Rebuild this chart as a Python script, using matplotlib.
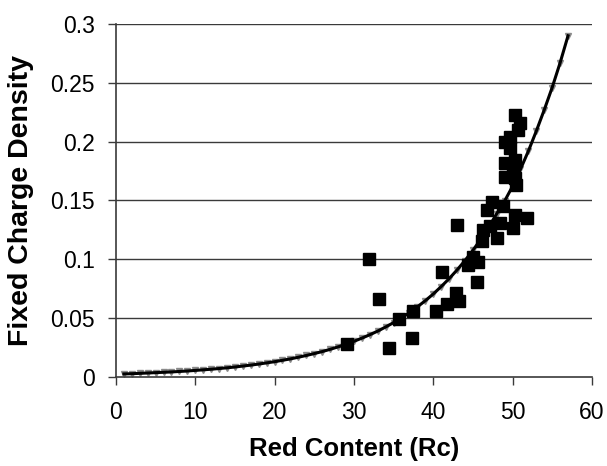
import matplotlib
matplotlib.use("Agg")
import matplotlib.pyplot as plt

# Measured data (Red Content vs Fixed Charge Density)
rc = [29.1, 31.9, 33.2, 34.4, 35.7, 37.3, 37.5, 40.4, 41.1, 41.8,
      42.9, 43.2, 43.0, 44.4, 45.0, 45.6, 45.5, 46.1, 46.3, 47.1,
      48.0, 48.4, 46.8, 47.4, 48.8, 50.3, 51.8, 50.0,
      50.3, 50.9, 50.7, 49.7, 49.0, 49.7, 49.0, 50.3, 50.0, 49.0,
      50.3, 50.5]
fcd = [0.028, 0.100, 0.066, 0.025, 0.049, 0.033, 0.056, 0.056, 0.089, 0.062,
       0.071, 0.065, 0.129, 0.095, 0.102, 0.098, 0.081, 0.116, 0.125, 0.128,
       0.118, 0.131, 0.142, 0.149, 0.145, 0.138, 0.135, 0.127,
       0.223, 0.216, 0.210, 0.204, 0.200, 0.195, 0.182, 0.184, 0.176, 0.170,
       0.169, 0.163]

# Trend curve values at x = 1..57
curve_x = list(range(1, 58))
curve_y = [0.0026, 0.0028, 0.0031, 0.0034, 0.0037, 0.0040, 0.0043, 0.0047, 0.0051, 0.0056,
           0.0061, 0.0066, 0.0072, 0.0078, 0.0085, 0.0093, 0.0101, 0.0110, 0.0120, 0.0130,
           0.0142, 0.0154, 0.0168, 0.0183, 0.0199, 0.0216, 0.0235, 0.0256, 0.0278, 0.0303,
           0.0330, 0.0359, 0.0390, 0.0425, 0.0462, 0.0503, 0.0547, 0.0596, 0.0648, 0.0705,
           0.0768, 0.0835, 0.0909, 0.0989, 0.1076, 0.1171, 0.1274, 0.1387, 0.1495, 0.1620,
           0.1765, 0.1920, 0.2090, 0.2270, 0.2460, 0.2670, 0.2900]

xticks = [0, 10, 20, 30, 40, 50, 60]
yticks = [0, 0.05, 0.1, 0.15, 0.2, 0.25, 0.3]
ytick_labels = ["0", "0.05", "0.1", "0.15", "0.2", "0.25", "0.3"]

plt.rcParams['font.family'] = ['Liberation Sans', 'DejaVu Sans']

fig = plt.figure(figsize=(6.07, 4.66), dpi=100)
ax = fig.add_axes([0.191, 0.191, 0.784, 0.7575])

ax.set_xlim(0, 60)
ax.set_ylim(0, 0.3)

for yv in yticks[1:]:
    ax.axhline(yv, color='#3a3a3a', lw=1.0, zorder=1)

ax.plot(curve_x, curve_y, linestyle='none', marker='v', markersize=3.8,
        color='#8a8a8a', zorder=2)
ax.plot(curve_x, curve_y, color='black', lw=2.2, zorder=3)
ax.plot(rc, fcd, linestyle='none', marker='s', markersize=8, color='black', zorder=4)

ax.set_xticks(xticks)
ax.set_xticklabels([str(v) for v in xticks])
ax.set_yticks(yticks)
ax.set_yticklabels(ytick_labels)
ax.tick_params(axis='both', direction='out', length=6, width=1, color='#3a3a3a',
               labelsize=16.5)
ax.tick_params(axis='x', pad=11)
ax.tick_params(axis='y', pad=9)

for s in ['top', 'right']:
    ax.spines[s].set_visible(False)
for s in ['left', 'bottom']:
    ax.spines[s].set_color('#3a3a3a')
    ax.spines[s].set_linewidth(1.2)

ax.set_xlabel("Red Content (Rc)", fontsize=18.5, fontweight='bold', labelpad=10)
ax.set_ylabel("Fixed Charge Density", fontsize=20.5, fontweight='bold', labelpad=12)

fig.savefig("out.png", dpi=100)
